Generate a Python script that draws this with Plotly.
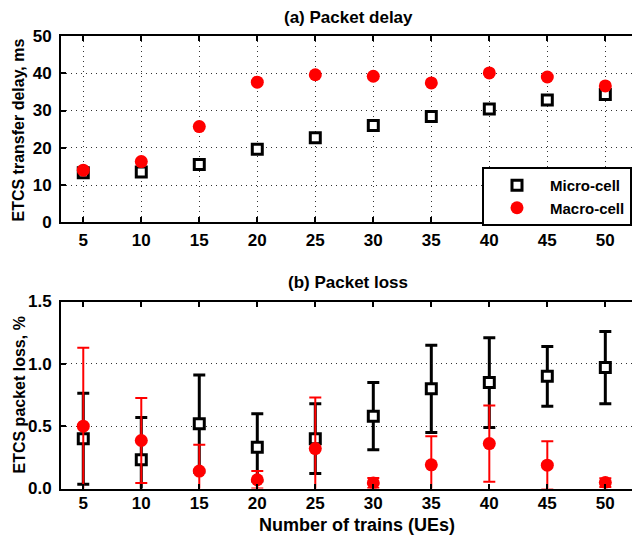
import plotly.graph_objects as go

# ---- data ----
trains = [5, 10, 15, 20, 25, 30, 35, 40, 45, 50]
delay_micro = [13.3, 13.5, 15.5, 19.6, 22.7, 26.0, 28.4, 30.4, 32.8, 34.3]
delay_macro = [14.0, 16.3, 25.7, 37.6, 39.6, 39.2, 37.4, 40.1, 39.0, 36.6]
loss_micro = [0.40, 0.23, 0.52, 0.33, 0.40, 0.58, 0.80, 0.85, 0.90, 0.97]
loss_micro_err = [0.365, 0.34, 0.39, 0.27, 0.28, 0.27, 0.35, 0.36, 0.24, 0.29]
loss_macro = [0.50, 0.385, 0.14, 0.07, 0.32, 0.045, 0.19, 0.36, 0.187, 0.048]
loss_macro_err = [0.63, 0.34, 0.21, 0.07, 0.41, 0.04, 0.23, 0.305, 0.193, 0.035]
delay_ticks = [0, 10, 20, 30, 40, 50]
loss_ticks = [0.0, 0.5, 1.0, 1.5]
loss_tick_text = ["0.0", "0.5", "1.0", "1.5"]

W, H = 632, 536
ML, MR, MT, MB = 61, 0, 36, 47
PH = H - MT - MB


def dom(top_px, bot_px):
    lo = max(0.0, min(1.0, (H - MB - bot_px) / PH))
    hi = max(0.0, min(1.0, (H - MB - top_px) / PH))
    return [lo, hi]


FONT = "Liberation Sans"
TF = 17

fig = go.Figure()

fig.add_trace(go.Scatter(
    x=trains, y=delay_micro, mode="markers", name="Micro-cell",
    marker=dict(symbol="square", size=10, color="white",
                line=dict(color="black", width=3)),
    xaxis="x", yaxis="y"))
fig.add_trace(go.Scatter(
    x=trains, y=delay_macro, mode="markers", name="Macro-cell",
    marker=dict(symbol="circle", size=13, color="#ff0000",
                line=dict(width=0)),
    xaxis="x", yaxis="y"))

fig.add_trace(go.Scatter(
    x=trains, y=loss_micro, mode="markers", showlegend=False,
    marker=dict(symbol="square", size=10, color="white",
                line=dict(color="black", width=3)),
    error_y=dict(type="data", array=loss_micro_err, color="black",
                 thickness=3, width=6),
    xaxis="x2", yaxis="y2"))
fig.add_trace(go.Scatter(
    x=trains, y=loss_macro, mode="markers", showlegend=False,
    marker=dict(symbol="circle", size=13, color="#ff0000",
                line=dict(width=0)),
    error_y=dict(type="data", array=loss_macro_err, color="#ff0000",
                 thickness=2, width=6),
    xaxis="x2", yaxis="y2"))

xr = [3.08, 52.3]
common_x = dict(range=xr, tickvals=trains, ticks="inside", ticklen=5,
                tickwidth=2, tickcolor="black", showline=True,
                linecolor="black", linewidth=2, mirror="ticks",
                zeroline=False,
                tickfont=dict(family=FONT, size=TF, color="black", weight="bold"))
common_y = dict(ticks="inside", ticklen=5, tickwidth=2, tickcolor="black",
                showline=True, linecolor="black", linewidth=2, mirror=False,
                zeroline=False, ticklabelstandoff=4,
                tickfont=dict(family=FONT, size=TF, color="black", weight="bold"))
grid = dict(showgrid=True, gridcolor="#333333", gridwidth=1, griddash="1px,4px")

fig.update_layout(
    width=W, height=H,
    margin=dict(l=ML, r=MR, t=MT, b=MB),
    paper_bgcolor="white", plot_bgcolor="white",
    font=dict(family=FONT, color="black", weight="bold"),
    xaxis=dict(domain=[0, 1], anchor="y", ticklabelstandoff=1, **common_x, **grid),
    yaxis=dict(domain=dom(36, 222.3), anchor="x", range=[0, 50],
               tickvals=delay_ticks, **common_y, **grid),
    xaxis2=dict(domain=[0, 1], anchor="y2", showgrid=False, ticklabelstandoff=-2,
                **common_x),
    yaxis2=dict(domain=dom(301.5, 488.5), anchor="x2", range=[0, 1.5],
                tickvals=loss_ticks, ticktext=loss_tick_text, **common_y, **grid),
    legend=dict(x=1, xanchor="right", y=(H - MB - 167) / PH, yanchor="top",
                bgcolor="white", bordercolor="black", borderwidth=2,
                font=dict(family=FONT, size=15, color="black", weight="bold"),
                itemwidth=56, tracegroupgap=0),
    showlegend=True,
)

def px_y(p):
    return (H - MB - p) / PH

def px_x(p):
    return (p - ML) / (W - ML - MR)

ann = [
    dict(text="(a) Packet delay", x=px_x(348), y=px_y(17), size=17),
    dict(text="(b) Packet loss", x=px_x(348), y=px_y(282), size=17),
    dict(text="Number of trains (UEs)", x=px_x(357), y=px_y(525), size=18),
    dict(text="ETCS transfer delay, ms", x=px_x(18.5), y=px_y(130), textangle=-90, size=16),
    dict(text="ETCS packet loss, %", x=px_x(18.5), y=px_y(395), textangle=-90, size=16),
]
for a in ann:
    sz = a.pop("size")
    fig.add_annotation(xref="paper", yref="paper", showarrow=False,
                       xanchor="center", yanchor="middle",
                       font=dict(family=FONT, size=sz, color="black", weight="bold"),
                       **a)

fig.write_html("out.html", config={"displayModeBar": False},
               post_script="document.body.style.margin='0';document.body.style.overflow='hidden';")
